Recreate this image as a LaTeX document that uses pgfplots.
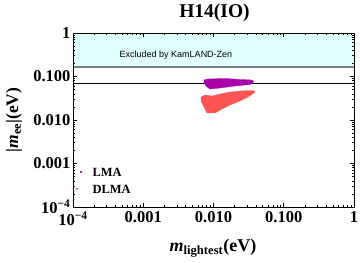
\documentclass[border=0pt]{standalone}
\usepackage{fontspec}
\setmainfont{Liberation Serif}
\newfontfamily\arialf{Liberation Sans}
\usepackage{pgfplots}
\pgfplotsset{compat=1.18}
\definecolor{lmac}{RGB}{170,0,170}
\definecolor{dlmac}{RGB}{255,85,85}
\definecolor{bandc}{RGB}{224,255,255}
\begin{document}
\begin{tikzpicture}
\begin{axis}[
  at={(0,0)}, anchor=south west,
  scale only axis, width=281pt, height=174pt,
  xmode=log, ymode=log,
  xmin=1e-4, xmax=1, ymin=1e-4, ymax=1,
  xtick={1e-4,1e-3,1e-2,1e-1,1},
  xticklabels={10\textsuperscript{−4},0.001,0.010,0.100,1},
  ytick={1e-4,1e-3,1e-2,1e-1,1},
  yticklabels={10\textsuperscript{−4},0.001,0.010,0.100,1},
  tick label style={font=\fontsize{16.5}{17}\selectfont\bfseries},
  xticklabel style={yshift=-1pt},
  yticklabel style={xshift=1pt},
  axis line style={black, line width=0.6pt},
  tick style={black, line width=0.5pt},
  major tick length=4pt, minor tick length=2pt,
  axis on top,
]
\addplot[fill=bandc, draw=none] coordinates {(1e-4,0.165) (1,0.165) (1,1) (1e-4,1)} -- cycle;
\addplot[gray, line width=1.5pt] coordinates {(1e-4,0.165) (1,0.165)};
\addplot[black, line width=0.6pt] coordinates {(1e-4,0.0716) (1,0.0716)};
% DLMA region
\addplot[fill=dlmac, draw=dlmac, line width=0.3pt] coordinates {
 (0.00664,0.0338) (0.00757,0.0375) (0.00953,0.0356) (0.0124,0.0396) (0.0172,0.0440)
 (0.0238,0.0464) (0.0331,0.0477) (0.0390,0.0464) (0.0377,0.0418) (0.0310,0.0338)
 (0.0238,0.0274) (0.0172,0.0221) (0.0132,0.0179) (0.0105,0.0145) (0.00808,0.0145)
 (0.00733,0.0199) (0.00664,0.0274)} -- cycle;
% LMA region
\addplot[fill=lmac, draw=lmac, line width=0.3pt] coordinates {
 (0.00733,0.0831) (0.00835,0.0877) (0.0146,0.0900) (0.0238,0.0853) (0.0353,0.0831)
 (0.0377,0.0768) (0.0331,0.0655) (0.0202,0.0605) (0.0124,0.0545) (0.00891,0.0516)
 (0.00782,0.0605) (0.00733,0.0748)} -- cycle;
% legend markers
\addplot[only marks, mark=*, mark size=1pt, lmac] coordinates {(1.3e-4,6.4e-4)};
\addplot[only marks, mark=*, mark size=1pt, dlmac] coordinates {(1.14e-4,2.6e-4)};
\end{axis}
\node[anchor=west, font=\fontsize{12.5}{13}\selectfont\bfseries] at (16pt,35pt) {LMA};
\node[anchor=west, font=\fontsize{12.5}{13}\selectfont\bfseries] at (16pt,18pt) {DLMA};
\node[font=\arialf\fontsize{9}{10}\selectfont] at (103pt,152pt) {Excluded by KamLAND-Zen};
\node[font=\fontsize{19.5}{20}\selectfont\bfseries] at (141.5pt,194pt) {H14(IO)};
\node[font=\fontsize{18}{19}\selectfont\bfseries] at (140pt,-41pt) {\textit{m}\textsubscript{lightest}(eV)};
\node[rotate=90, font=\fontsize{17.5}{19}\selectfont\bfseries] at (-59pt,87pt) {|\textit{m}\textsubscript{ee}|(eV)};
\pgfresetboundingbox
\path[use as bounding box] (-73pt,-56pt) rectangle (287pt,207pt);
\end{tikzpicture}
\end{document}
